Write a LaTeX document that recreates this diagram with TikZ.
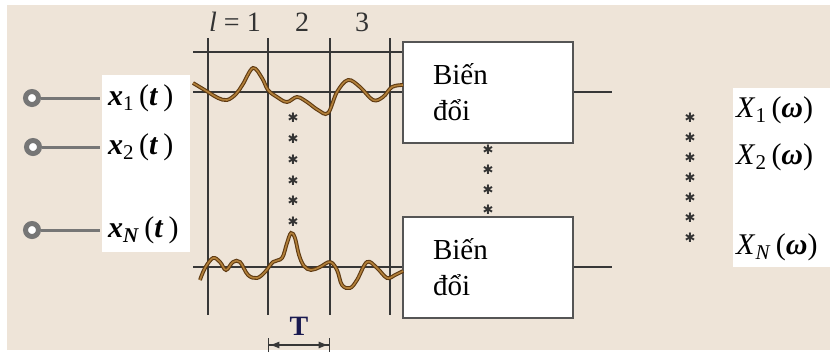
\documentclass[tikz,border=0pt]{standalone}
\usepackage{fontspec}
\setmainfont{Liberation Serif}
\newfontfamily\symfont{DejaVu Sans}
\usetikzlibrary{arrows.meta}
\definecolor{nen}{RGB}{238,228,216}
\definecolor{day}{RGB}{55,55,55}
\definecolor{vienhop}{RGB}{85,85,85}
\definecolor{xam}{RGB}{118,118,118}
\definecolor{nauDam}{RGB}{95,58,18}
\definecolor{nauSang}{RGB}{178,128,58}
\definecolor{xanhT}{RGB}{25,25,80}
\tikzset{
  hop/.style={draw=vienhop, line width=2pt, fill=white, minimum width=170pt,
    minimum height=101pt, text width=110pt, inner xsep=30pt, align=left,
    font=\fontsize{29}{36}\selectfont},
  luoi/.style={draw=day, line width=1.4pt},
  tinhieu/.style={draw=nauSang, line width=1.6pt, line join=round,
    preaction={draw=nauDam, line width=3.8pt}},
  cong/.style={circle, draw=xam, line width=5pt, fill=white, minimum size=13pt, inner sep=0pt},
  day vao/.style={draw=xam, line width=3pt},
  nhan/.style={anchor=west, inner xsep=8pt, font=\fontsize{30}{34}\selectfont},
  cot/.style={text=black!80, font=\fontsize{28}{30}\selectfont},
  sao/.style={inner sep=0pt, text=black!80, font=\symfont\fontsize{13}{13}\selectfont},
  muiT/.tip={Latex[length=10pt,width=7pt]}
}
\begin{document}
\begin{tikzpicture}[x=1pt,y=-1pt]
\useasboundingbox (0,0) rectangle (830,354);

% Nen va cac o trang
\fill[nen] (7,5) rectangle (830,350);
\fill[white] (102,75) rectangle (190,252);
\fill[white] (733,88) rectangle (830,267);

% Luoi chia khung thoi gian
\foreach \x in {208,268,330,390}
  \draw[luoi] (\x,38) -- (\x,315);
\node[cot] (l1) at (235,22) {\textit{l} = 1};
\node[cot] (l2) at (302,22) {2};
\node[cot] (l3) at (362,22) {3};

% Hai khoi bien doi
\node[hop] (box1) at (488,92.5) {Biến\\đổi};
\node[hop] (box2) at (488,267) {Biến\\đổi};
\coordinate (out1) at (612,92);
\coordinate (outN) at (612,267);

% Duong ngang
\draw[luoi] (193,52) -- (193,52 -| box1.west);
\draw[luoi] (193,92) -- (193,92 -| box1.west);
\draw[luoi] (193,267) -- (box2.west);
\draw[luoi] (box1.east |- out1) -- (out1);
\draw[luoi] (box2.east) -- (outN);

% Tin hieu
\draw[tinhieu] plot[smooth, tension=0.6] coordinates {(193,83) (208,92) (218,98) (227,100)
  (236,94) (243,84) (253,68) (262,78) (268,90) (277,97) (287,102) (297,97) (307,102)
  (318,110) (328,113) (337,92) (348,80) (360,87) (373,100) (383,97) (392,87) (403,85)};
\draw[tinhieu] plot[smooth, tension=0.6] coordinates {(200,280) (205,268) (213,258)
  (220,262) (226,270) (233,262) (240,262) (248,275) (257,278) (265,272) (273,262)
  (282,258) (287,243) (291,233) (295,238) (299,255) (304,266) (311,270) (320,267)
  (330,262) (337,270) (342,285) (350,288) (357,280) (367,262) (377,268) (387,278)
  (395,275) (403,271)};

% Dau sao
\foreach \i in {0,...,5}
  \node[sao] at (293,118+20.8*\i) {✱};
\foreach \i in {0,...,3}
  \node[sao] at (488,150+20*\i) {✱};
\foreach \i in {0,...,6}
  \node[sao] at (690,118+20*\i) {✱};

% Cac ngo vao
\node[nhan] (xone) at (100,98) {\textbf{\textit{x}}\textsubscript{1}\,(\textbf{\textit{t}}\,)};
\node[nhan] (xtwo) at (100,147) {\textbf{\textit{x}}\textsubscript{2}\,(\textbf{\textit{t}}\,)};
\node[nhan] (xN) at (100,230) {\textbf{\textit{x}}\textsubscript{\textbf{\textit{N}}}\,(\textbf{\textit{t}}\,)};
\node[cong] (in1) at (32,98) {};
\node[cong] (in2) at (33,147) {};
\node[cong] (inN) at (32,230) {};
\draw[day vao] (in1) -- (xone);
\draw[day vao] (in2) -- (xtwo);
\draw[day vao] (inN) -- (xN);

% Cac ngo ra
\node[nhan, inner xsep=3pt] (Xone) at (733,110) {\textit{X}\textsubscript{1}\,(\textbf{\textit{ω}})};
\node[nhan, inner xsep=3pt] (Xtwo) at (733,157) {\textit{X}\textsubscript{2}\,(\textbf{\textit{ω}})};
\node[nhan, inner xsep=3pt] (XN) at (733,247) {\textit{X}\textsubscript{\textit{N}}\,(\textbf{\textit{ω}})};

% Chu thich chu ky T
\coordinate (tL) at (268,345);
\coordinate (tR) at (330,345);
\node[text=xanhT, font=\bfseries\fontsize{28}{30}\selectfont] (tlabel) at (299,326) {T};
\draw[day, line width=1.3pt, {Bar[width=14pt]muiT[]}-{muiT[]Bar[width=14pt]}] (tL) -- (tR);
\end{tikzpicture}
\end{document}
